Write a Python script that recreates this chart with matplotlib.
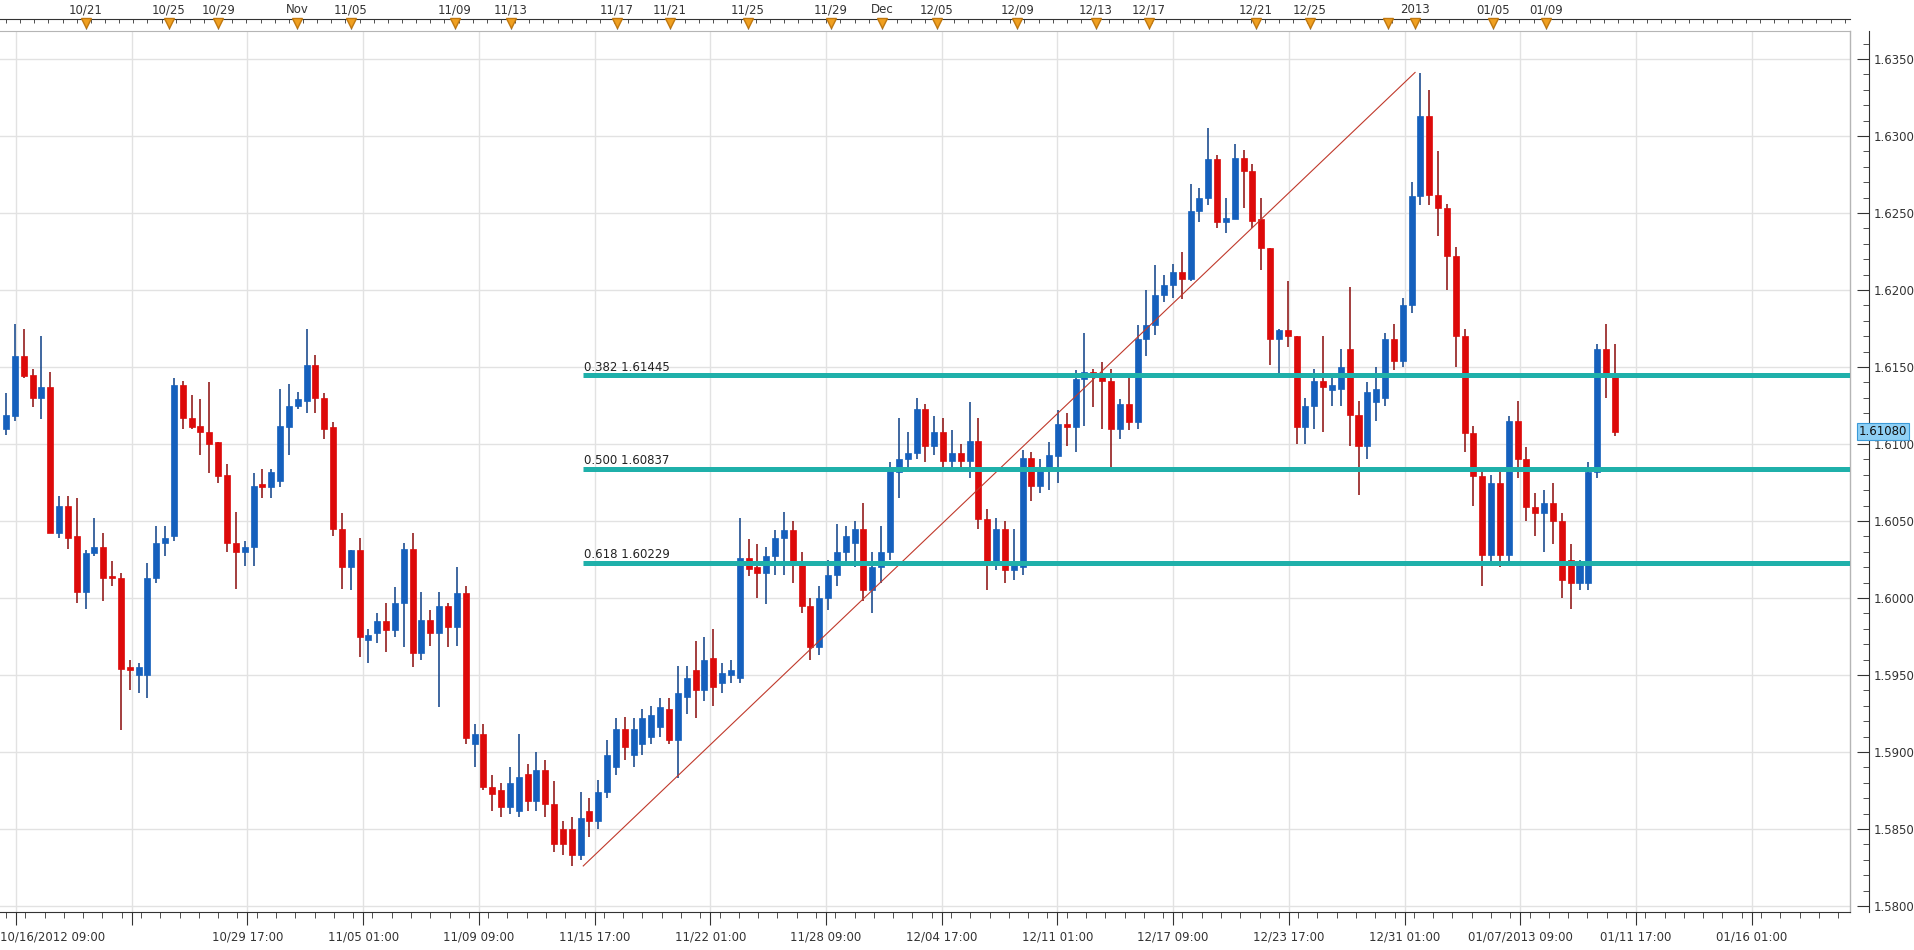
import matplotlib
matplotlib.use("Agg")
import matplotlib.pyplot as plt
import matplotlib.transforms as mtrans
from matplotlib.ticker import MultipleLocator, FixedLocator
import numpy as np

opens = [1.6110,1.6118,1.6157,1.6145,1.6130,1.6137,1.6042,1.6060,1.6040,1.6004,
 1.6029,1.6033,1.6014,1.6013,1.5955,1.5950,1.5950,1.6013,1.6036,1.6040,
 1.6138,1.6117,1.6112,1.6108,1.6101,1.6080,1.6036,1.6030,1.6033,1.6074,
 1.6072,1.6076,1.6111,1.6125,1.6128,1.6151,1.6130,1.6111,1.6045,1.6020,
 1.6031,1.5973,1.5977,1.5985,1.5979,1.5997,1.6032,1.5964,1.5986,1.5977,
 1.5995,1.5981,1.6003,1.5905,1.5912,1.5877,1.5875,1.5864,1.5862,1.5886,
 1.5868,1.5888,1.5866,1.5850,1.5850,1.5833,1.5862,1.5855,1.5874,1.5890,
 1.5915,1.5898,1.5905,1.5910,1.5916,1.5928,1.5908,1.5936,1.5953,1.5940,
 1.5961,1.5945,1.5950,1.5948,1.6026,1.6020,1.6016,1.6027,1.6039,1.6044,
 1.6023,1.5995,1.5968,1.6000,1.6015,1.6030,1.6036,1.6045,1.6005,1.6020,
 1.6030,1.6082,1.6090,1.6094,1.6123,1.6099,1.6108,1.6089,1.6094,1.6089,
 1.6102,1.6051,1.6022,1.6045,1.6018,1.6020,1.6091,1.6073,1.6085,1.6092,
 1.6113,1.6111,1.6142,1.6147,1.6145,1.6141,1.6110,1.6126,1.6114,1.6168,
 1.6177,1.6197,1.6203,1.6212,1.6207,1.6251,1.6260,1.6285,1.6244,1.6246,
 1.6286,1.6277,1.6246,1.6227,1.6168,1.6174,1.6170,1.6111,1.6125,1.6141,
 1.6135,1.6136,1.6162,1.6119,1.6099,1.6127,1.6130,1.6168,1.6154,1.6190,
 1.6261,1.6313,1.6262,1.6253,1.6222,1.6170,1.6107,1.6079,1.6028,1.6075,
 1.6028,1.6115,1.6090,1.6059,1.6055,1.6062,1.6050,1.6025,1.6010,1.6010,
 1.6082,1.6162,1.6146]
highs = [1.6133,1.6178,1.6175,1.6149,1.6170,1.6147,1.6066,1.6066,1.6065,1.6031,
 1.6052,1.6042,1.6024,1.6016,1.5960,1.5958,1.6023,1.6047,1.6047,1.6143,
 1.6141,1.6132,1.6129,1.6140,1.6101,1.6087,1.6056,1.6037,1.6081,1.6084,
 1.6084,1.6136,1.6139,1.6134,1.6175,1.6158,1.6133,1.6114,1.6055,1.6031,
 1.6039,1.5980,1.5990,1.5997,1.6007,1.6036,1.6042,1.6004,1.5992,1.6004,
 1.5997,1.6020,1.6008,1.5918,1.5918,1.5885,1.5880,1.5890,1.5912,1.5892,
 1.5900,1.5895,1.5881,1.5855,1.5858,1.5874,1.5870,1.5882,1.5908,1.5922,
 1.5923,1.5922,1.5928,1.5930,1.5935,1.5935,1.5956,1.5956,1.5972,1.5975,
 1.5980,1.5958,1.5960,1.6052,1.6038,1.6035,1.6033,1.6044,1.6056,1.6050,
 1.6030,1.6000,1.6008,1.6025,1.6048,1.6047,1.6050,1.6062,1.6030,1.6047,
 1.6088,1.6117,1.6108,1.6130,1.6126,1.6118,1.6117,1.6109,1.6100,1.6127,
 1.6117,1.6058,1.6052,1.6050,1.6045,1.6096,1.6095,1.6090,1.6101,1.6122,
 1.6120,1.6148,1.6172,1.6149,1.6153,1.6149,1.6129,1.6143,1.6177,1.6200,
 1.6216,1.6210,1.6217,1.6225,1.6269,1.6266,1.6305,1.6288,1.6260,1.6295,
 1.6291,1.6282,1.6260,1.6227,1.6175,1.6206,1.6170,1.6130,1.6149,1.6170,
 1.6143,1.6162,1.6202,1.6128,1.6140,1.6150,1.6172,1.6178,1.6195,1.6270,
 1.6341,1.6330,1.6290,1.6256,1.6228,1.6175,1.6112,1.6083,1.6080,1.6085,
 1.6118,1.6128,1.6098,1.6068,1.6070,1.6075,1.6055,1.6035,1.6025,1.6088,
 1.6165,1.6178,1.6165]
lows = [1.6106,1.6115,1.6143,1.6124,1.6116,1.6042,1.6039,1.6032,1.5997,1.5993,
 1.6027,1.5998,1.6008,1.5914,1.5940,1.5938,1.5935,1.6010,1.6027,1.6037,
 1.6110,1.6110,1.6093,1.6081,1.6075,1.6030,1.6006,1.6021,1.6021,1.6065,
 1.6065,1.6072,1.6093,1.6123,1.6120,1.6120,1.6103,1.6040,1.6006,1.6005,
 1.5962,1.5958,1.5971,1.5965,1.5975,1.5968,1.5955,1.5960,1.5969,1.5929,
 1.5968,1.5969,1.5905,1.5890,1.5875,1.5862,1.5858,1.5860,1.5858,1.5862,
 1.5862,1.5858,1.5835,1.5833,1.5826,1.5830,1.5845,1.5850,1.5870,1.5885,
 1.5895,1.5890,1.5898,1.5905,1.5910,1.5905,1.5883,1.5925,1.5922,1.5933,
 1.5930,1.5938,1.5945,1.5945,1.6014,1.6000,1.5996,1.6015,1.6015,1.6010,
 1.5990,1.5960,1.5963,1.5992,1.6008,1.6022,1.6020,1.5998,1.5990,1.6010,
 1.6025,1.6065,1.6085,1.6090,1.6088,1.6093,1.6082,1.6083,1.6085,1.6078,
 1.6045,1.6005,1.6018,1.6010,1.6012,1.6015,1.6063,1.6068,1.6070,1.6075,
 1.6099,1.6095,1.6112,1.6124,1.6110,1.6085,1.6103,1.6109,1.6110,1.6157,
 1.6171,1.6192,1.6195,1.6194,1.6206,1.6244,1.6255,1.6240,1.6237,1.6246,
 1.6253,1.6240,1.6213,1.6151,1.6145,1.6163,1.6100,1.6100,1.6110,1.6108,
 1.6125,1.6125,1.6099,1.6067,1.6090,1.6115,1.6125,1.6148,1.6150,1.6185,
 1.6255,1.6255,1.6235,1.6200,1.6150,1.6095,1.6060,1.6008,1.6022,1.6020,
 1.6022,1.6078,1.6050,1.6040,1.6030,1.6035,1.6000,1.5993,1.6005,1.6005,
 1.6078,1.6130,1.6105]
closes = [1.6119,1.6157,1.6144,1.6130,1.6137,1.6042,1.6060,1.6039,1.6004,1.6029,
 1.6033,1.6013,1.6013,1.5954,1.5953,1.5955,1.6013,1.6036,1.6039,1.6138,
 1.6117,1.6111,1.6108,1.6100,1.6079,1.6036,1.6030,1.6033,1.6073,1.6072,
 1.6082,1.6112,1.6125,1.6129,1.6151,1.6130,1.6110,1.6045,1.6020,1.6031,
 1.5975,1.5976,1.5985,1.5979,1.5997,1.6032,1.5964,1.5986,1.5977,1.5995,
 1.5981,1.6003,1.5909,1.5912,1.5877,1.5873,1.5864,1.5880,1.5884,1.5868,
 1.5888,1.5866,1.5840,1.5840,1.5833,1.5857,1.5855,1.5874,1.5898,1.5915,
 1.5903,1.5915,1.5922,1.5924,1.5929,1.5908,1.5938,1.5948,1.5940,1.5960,
 1.5942,1.5951,1.5953,1.6026,1.6019,1.6016,1.6027,1.6039,1.6044,1.6023,
 1.5995,1.5968,1.6000,1.6015,1.6030,1.6040,1.6045,1.6005,1.6020,1.6030,
 1.6083,1.6090,1.6094,1.6123,1.6099,1.6108,1.6089,1.6094,1.6089,1.6102,
 1.6051,1.6022,1.6045,1.6018,1.6022,1.6091,1.6073,1.6085,1.6093,1.6113,
 1.6111,1.6142,1.6147,1.6146,1.6141,1.6110,1.6126,1.6114,1.6168,1.6177,
 1.6197,1.6203,1.6212,1.6207,1.6251,1.6260,1.6285,1.6244,1.6247,1.6286,
 1.6277,1.6245,1.6227,1.6168,1.6174,1.6170,1.6111,1.6125,1.6141,1.6137,
 1.6138,1.6150,1.6119,1.6099,1.6134,1.6136,1.6168,1.6154,1.6190,1.6261,
 1.6313,1.6262,1.6253,1.6222,1.6170,1.6107,1.6079,1.6028,1.6075,1.6028,
 1.6115,1.6090,1.6059,1.6055,1.6062,1.6050,1.6012,1.6010,1.6022,1.6082,
 1.6162,1.6146,1.6108]

bottom_labels = ['10/16/2012 09:00', '', '10/29 17:00', '11/05 01:00', '11/09 09:00',
                 '11/15 17:00', '11/22 01:00', '11/28 09:00', '12/04 17:00', '12/11 01:00',
                 '12/17 09:00', '12/23 17:00', '12/31 01:00', '01/07/2013 09:00',
                 '01/11 17:00', '01/16 01:00']
top_labels = ['10/21', '10/25', '10/29', 'Nov', '11/05', '11/09', '11/13', '11/17', '11/21',
              '11/25', '11/29', 'Dec', '12/05', '12/09', '12/13', '12/17', '12/21', '12/25',
              '', '2013', '01/05', '01/09']
top_pos = [9.05, 18.4, 24.0, 32.9, 39.0, 50.8, 57.1, 69.1, 75.1, 83.9, 93.3, 99.1, 105.3,
           114.4, 123.3, 129.3, 141.4, 147.5, 156.3, 159.4, 168.2, 174.2]
fib_ratios = ['0.382', '0.500', '0.618']
fib_levels = [1.61445, 1.60837, 1.60229]
swing_low = (65.3, 1.5826)
swing_high = (159.4, 1.63413)
last_price = 1.61080

W, H = 1914, 950
fig = plt.figure(figsize=(W/100, H/100), dpi=100)
fig.patch.set_facecolor('white')
ax = fig.add_axes([0, 38/H, 1850/W, 881/H])

o = np.array(opens); h = np.array(highs); l = np.array(lows); c = np.array(closes)
x = np.arange(len(o))
up = c >= o
blue, red = '#1560bd', '#dd0a0a'
cols = np.where(up, blue, red)
wcols = np.where(up, '#0b3f86', '#8a0a0a')
ax.vlines(x, l, h, colors=wcols, lw=1.1, zorder=3)
bot = np.minimum(o, c)
hgt = np.maximum(np.abs(c - o), 0.00004)
ax.bar(x, hgt, bottom=bot, width=0.68, color=cols, edgecolor=cols, lw=0.5, zorder=4)

ax.set_xlim(-0.68, 208.6)
ax.set_ylim(1.57961, 1.63682)

# grid
grid_x = [1.13 + 13.09*k for k in range(len(bottom_labels))]
for gx in grid_x:
    ax.axvline(gx, color='#e2e2e2', lw=1, zorder=0)
for gy in np.arange(1.580, 1.6351, 0.005):
    ax.axhline(gy, color='#e2e2e2', lw=1, zorder=0)

# fib
ax.plot([swing_low[0], swing_high[0]], [swing_low[1], swing_high[1]], color='#c0392b', lw=0.8, zorder=5)
for r, lv in zip(fib_ratios, fib_levels):
    ax.hlines(lv, swing_low[0], 208.6, color='#1fb0aa', lw=3.6, zorder=6)
    ax.text(swing_low[0] + 0.1, lv + 0.00012, f'{r} {lv:.5f}', fontsize=8.5, color='#222', va='bottom', ha='left', zorder=7)

# bottom axis
ax.set_xticks(grid_x)
ax.set_xticklabels(bottom_labels, fontsize=8.5, color='#333')
lbls = ax.get_xticklabels()
lbls[0].set_ha('left'); lbls[0].set_x(0)
ax.xaxis.set_minor_locator(MultipleLocator(13.09/6))
ax.tick_params(axis='x', which='major', direction='out', length=9, pad=4, color='#333')
ax.tick_params(axis='x', which='minor', direction='out', length=4, color='#333')
off = mtrans.offset_copy(lbls[0].get_transform(), fig=fig, x=-16, units='dots')
lbls[0].set_transform(off)

# right axis
ax.yaxis.tick_right()
ax.spines['right'].set_position(('outward', 14))
ax.set_yticks(np.arange(1.580, 1.6351, 0.005))
ax.set_yticklabels([f'{v:.4f}' for v in np.arange(1.580, 1.6351, 0.005)], fontsize=8.5, color='#333')
ax.yaxis.set_minor_locator(MultipleLocator(0.001))
ax.tick_params(axis='y', which='major', direction='in', length=9, pad=3, color='#333')
ax.tick_params(axis='y', which='minor', direction='in', length=4, color='#333')
ax.spines['left'].set_visible(False)
ax.spines['top'].set_color('#b5b5b5')
ax.spines['bottom'].set_color('#333')
ax.spines['right'].set_color('#333')
ax.plot([1, 1], [0, 1], transform=ax.transAxes, color='#b5b5b5', lw=1, clip_on=False)

# top date axis
top = ax.secondary_xaxis(1 + 12/881)
top.set_xticks(top_pos)
top.set_xticklabels(top_labels, fontsize=8.5, color='#333')
top.xaxis.set_minor_locator(MultipleLocator(1.6))
top.tick_params(axis='x', which='major', direction='in', length=7, pad=2, color='#333')
top.tick_params(axis='x', which='minor', direction='in', length=3, color='#333')
top.spines['top'].set_color('#333')
bt = mtrans.blended_transform_factory(ax.transData, ax.transAxes)
ax.plot(top_pos, [1 + 8/881]*len(top_pos), ls='', marker='v', ms=7, color='#f0a020',
        markeredgecolor='#c07810', transform=bt, clip_on=False, zorder=10)

# last price box
by = mtrans.blended_transform_factory(ax.transAxes, ax.transData)
ax.text(1 + 9/1850, last_price, f'{last_price:.5f}', transform=by, fontsize=8.5, color='#111',
        va='center', ha='left',
        bbox=dict(boxstyle='square,pad=0.15', facecolor='#8fd0f5', edgecolor='#3b9ad8', lw=0.8), zorder=11)

fig.savefig('out.png', dpi=100, facecolor='white')
